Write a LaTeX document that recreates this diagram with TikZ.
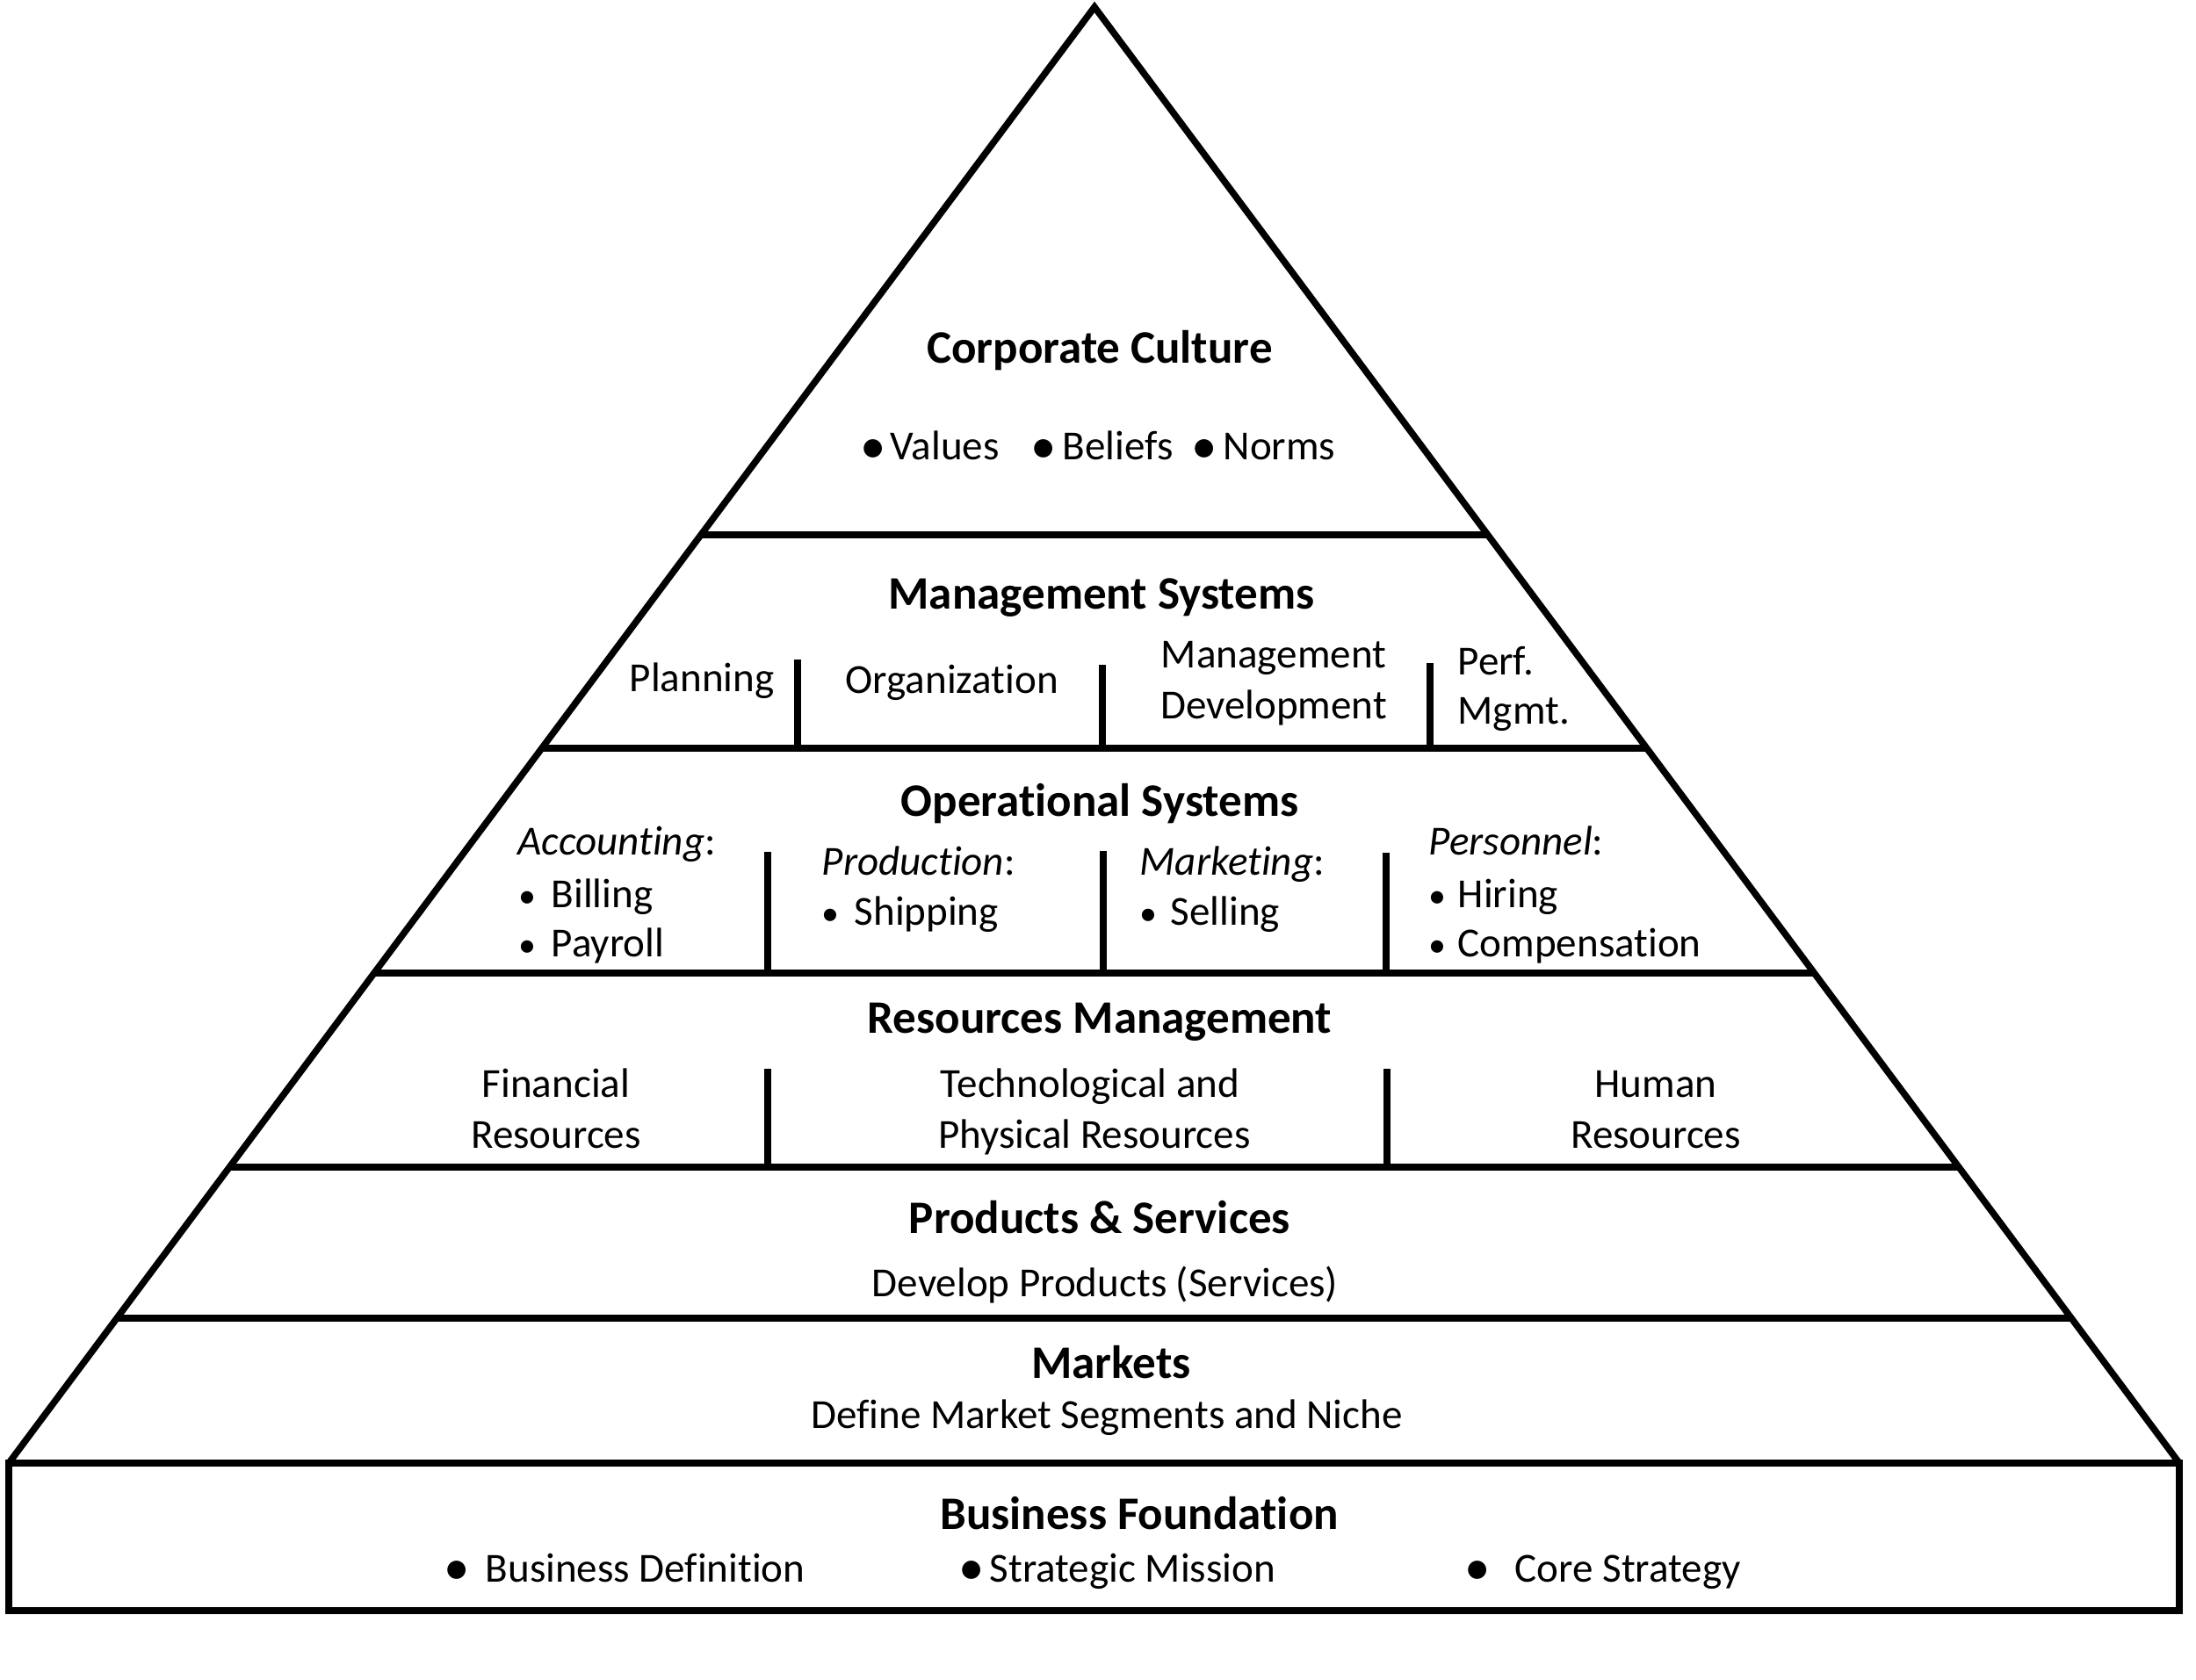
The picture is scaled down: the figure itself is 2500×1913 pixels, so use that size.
\documentclass[tikz,border=0pt]{standalone}
\usepackage{fontspec}
\usepackage{graphicx}
\setmainfont[Ligatures=NoCommon]{Carlito}
\usetikzlibrary{calc}
\newcommand{\bigbul}{\hspace{-0.03cm}\raisebox{-0.035cm}{\scalebox{1.25}{•}}}
\newcommand{\smbul}{\scalebox{0.85}{•}}
\begin{document}
\begin{tikzpicture}[x=0.01cm,y=-0.01cm,
  txt/.style={inner sep=0pt, font=\fontsize{13.38pt}{16pt}\selectfont},
  hd/.style={inner sep=0pt, font=\fontsize{15.08pt}{18pt}\selectfont\bfseries},
  edge/.style={line width=2.15pt, line join=miter},
  divline/.style={line width=2.1pt}]
\useasboundingbox (0,0) rectangle (2500,1913);
% pyramid outline
\coordinate (A) at (1246,8);
\coordinate (BL) at (10,1666);
\coordinate (BR) at (2481,1666);
\coordinate (BBL) at (10,1834);
\coordinate (BBR) at (2481,1834);
\draw[edge] (BL) -- (A) -- (BR);
\draw[edge] (BL) -- (BR) -- (BBR) -- (BBL) -- cycle;
\foreach \t [count=\i] in {0.3625,0.5090,0.6634,0.7967,0.9005}{
  \coordinate (L\i) at ($(A)!\t!(BL)$);
  \coordinate (R\i) at ($(A)!\t!(BR)$);
  \draw[edge] (L\i) -- (R\i);
}
% dividers
\draw[divline] (908,751) -- (908,852);
\draw[divline] (1255,757) -- (1255,852);
\draw[divline] (1628,755) -- (1628,852);
\draw[divline] (874,970) -- (874,1108);
\draw[divline] (1256,969) -- (1256,1108);
\draw[divline] (1578,971) -- (1578,1108);
\draw[divline] (874,1217) -- (874,1329);
\draw[divline] (1579,1217) -- (1579,1329);
% Corporate culture
\node[hd,anchor=base] (cc) at (1252,414) {Corporate Culture};
\node[txt,anchor=base west] (val) at (982,524) {\makebox[0.31cm][l]{\bigbul}Values};
\node[txt,anchor=base west] (bel) at (1176,524) {\makebox[0.33cm][l]{\bigbul}Beliefs};
\node[txt,anchor=base west] (nor) at (1359,524) {\makebox[0.33cm][l]{\bigbul}Norms};
% Management systems
\node[hd,anchor=base] (ms) at (1254,694) {Management Systems};
\node[txt,anchor=base west] (plan) at (716,788) {Planning};
\node[txt,anchor=base west] (org) at (962,790) {Organization};
\node[txt,anchor=base] (md1) at (1450,761) {Management};
\node[txt,anchor=base] (md2) at (1450,819) {Development};
\node[txt,anchor=base west] (pm1) at (1659,769) {Perf.};
\node[txt,anchor=base west] (pm2) at (1659,825) {Mgmt.};
% Operational systems
\node[hd,anchor=base] (os) at (1252,930) {Operational Systems};
\node[txt,anchor=base west] (acc) at (589,974) {\textit{Accounting}:};
\node[txt,anchor=base west] (bil) at (590,1033) {\makebox[0.37cm][l]{\smbul}Billing};
\node[txt,anchor=base west] (pay) at (590,1090) {\makebox[0.37cm][l]{\smbul}Payroll};
\node[txt,anchor=base west] (prod) at (935,997) {\textit{Production}:};
\node[txt,anchor=base west] (ship) at (935,1054) {\makebox[0.37cm][l]{\smbul}Shipping};
\node[txt,anchor=base west] (mkt) at (1297,997) {\textit{Marketing}:};
\node[txt,anchor=base west] (sell) at (1297,1054) {\makebox[0.35cm][l]{\smbul}Selling};
\node[txt,anchor=base west] (pers) at (1626,974) {\textit{Personnel}:};
\node[txt,anchor=base west] (hir) at (1626,1033) {\makebox[0.33cm][l]{\smbul}Hiring};
\node[txt,anchor=base west] (comp) at (1626,1090) {\makebox[0.33cm][l]{\smbul}Compensation};
% Resources management
\node[hd,anchor=base] (rm) at (1252,1176) {Resources Management};
\node[txt,anchor=base] (fin1) at (633,1249) {Financial};
\node[txt,anchor=base] (fin2) at (633,1307) {Resources};
\node[txt,anchor=base] (tec1) at (1241,1249) {Technological and};
\node[txt,anchor=base] (tec2) at (1246,1307) {Physical Resources};
\node[txt,anchor=base] (hum1) at (1885,1249) {Human};
\node[txt,anchor=base] (hum2) at (1885,1307) {Resources};
% Products & services
\node[hd,anchor=base] (ps) at (1252,1404) {Products \& Services};
\node[txt,anchor=base] (dp) at (1258,1476) {Develop Products (Services)};
% Markets
\node[hd,anchor=base] (mk) at (1265,1569) {Markets};
\node[txt,anchor=base] (dm) at (1260,1626) {Define Market Segments and Niche};
% Business foundation
\node[hd,anchor=base] (bf) at (1297,1741) {Business Foundation};
\node[txt,anchor=base west] (bd) at (508,1801) {\makebox[0.44cm][l]{\bigbul}Business Definition};
\node[txt,anchor=base west] (sm) at (1094,1801) {\makebox[0.32cm][l]{\bigbul}Strategic Mission};
\node[txt,anchor=base west] (cs) at (1670,1801) {\makebox[0.54cm][l]{\bigbul}Core Strategy};
\end{tikzpicture}
\end{document}
